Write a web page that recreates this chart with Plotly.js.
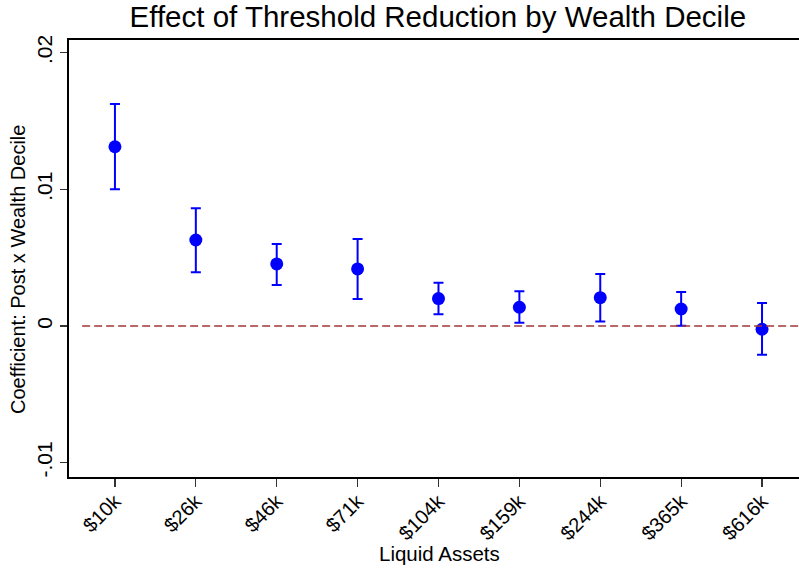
<!DOCTYPE html>
<html>
<head>
<meta charset="utf-8">
<script src="https://cdn.plot.ly/plotly-3.0.1.min.js"></script>
<style>html,body{margin:0;padding:0;overflow:hidden;background:#fff}</style>
</head>
<body>
<div id="chart" style="width:799px;height:572px"></div>
<script>
const categories = ["$10k","$26k","$46k","$71k","$104k","$159k","$244k","$365k","$616k"];
const positions = [1,2,3,4,5,6,7,8,9];
const coef  = [0.01311, 0.00629, 0.00454, 0.00417, 0.00200, 0.00137, 0.00207, 0.00124, -0.00024];
const upper = [0.01624, 0.00861, 0.00600, 0.00636, 0.00317, 0.00254, 0.00380, 0.00249, 0.00168];
const lower = [0.01000, 0.00393, 0.00300, 0.00198, 0.00086, 0.00024, 0.00032, 0.00002, -0.00210];
const yTickVals = [-0.01, 0, 0.01, 0.02];
const yTickText = ["-.01", "0", ".01", ".02"];

const errPlus = upper.map((u,i)=>u-coef[i]);
const errMinus = coef.map((c,i)=>c-lower[i]);

const FONT = "Liberation Sans, Arial, sans-serif";

const traces = [{
  type: "scatter", mode: "markers",
  x: positions, y: coef,
  marker: {color: "#0000FF", size: 13},
  error_y: {type: "data", symmetric: false, array: errPlus, arrayminus: errMinus,
            color: "#0000FF", thickness: 2, width: 5},
  showlegend: false, hoverinfo: "skip"
}];

const layout = {
  width: 799, height: 572,
  margin: {l: 69, r: 0, t: 40, b: 95},
  paper_bgcolor: "#fff", plot_bgcolor: "#fff",
  font: {family: FONT, color: "#000", size: 20},
  title: {text: "Effect of Threshold Reduction by Wealth Decile",
          font: {family: FONT, size: 29.5, color: "#000"},
          x: 0.548, xanchor: "center", y: 0.97, yanchor: "middle"},
  xaxis: {
    range: [0.432, 9.457],
    tickvals: positions, ticktext: categories, tickangle: -45,
    ticks: "outside", ticklen: 8, tickwidth: 1.3, tickcolor: "#333",
    showline: true, linecolor: "#000", linewidth: 1.8, mirror: true,
    showgrid: false, zeroline: false, ticklabelstandoff: -5,
    tickfont: {family: FONT, size: 20, color: "#000"}
  },
  yaxis: {
    range: [-0.01105, 0.02092],
    tickvals: yTickVals, ticktext: yTickText, tickangle: -90,
    ticks: "outside", ticklen: 7, tickwidth: 1.3, tickcolor: "#333",
    showline: true, linecolor: "#000", linewidth: 1.8,
    showgrid: false, zeroline: false,
    tickfont: {family: FONT, size: 21, color: "#000"}
  },
  annotations: [{
    text: "Coefficient: Post x Wealth Decile", textangle: -90,
    xref: "paper", yref: "paper", x: -0.0699, y: 0.476,
    xanchor: "center", yanchor: "middle", showarrow: false,
    font: {family: FONT, size: 20, color: "#000"}
  }, {
    text: "Liquid Assets",
    xref: "paper", yref: "paper", x: 0.507, y: -0.174,
    xanchor: "center", yanchor: "middle", showarrow: false,
    font: {family: FONT, size: 20.5, color: "#000"}
  }],
  shapes: [{
    type: "line", xref: "paper", yref: "y",
    x0: 0.018, x1: 1, y0: 0, y1: 0,
    line: {color: "#A0383A", width: 1.5, dash: "8px,4px"}
  }]
};

Plotly.newPlot("chart", traces, layout, {displayModeBar: false, staticPlot: true});
</script>
</body>
</html>
